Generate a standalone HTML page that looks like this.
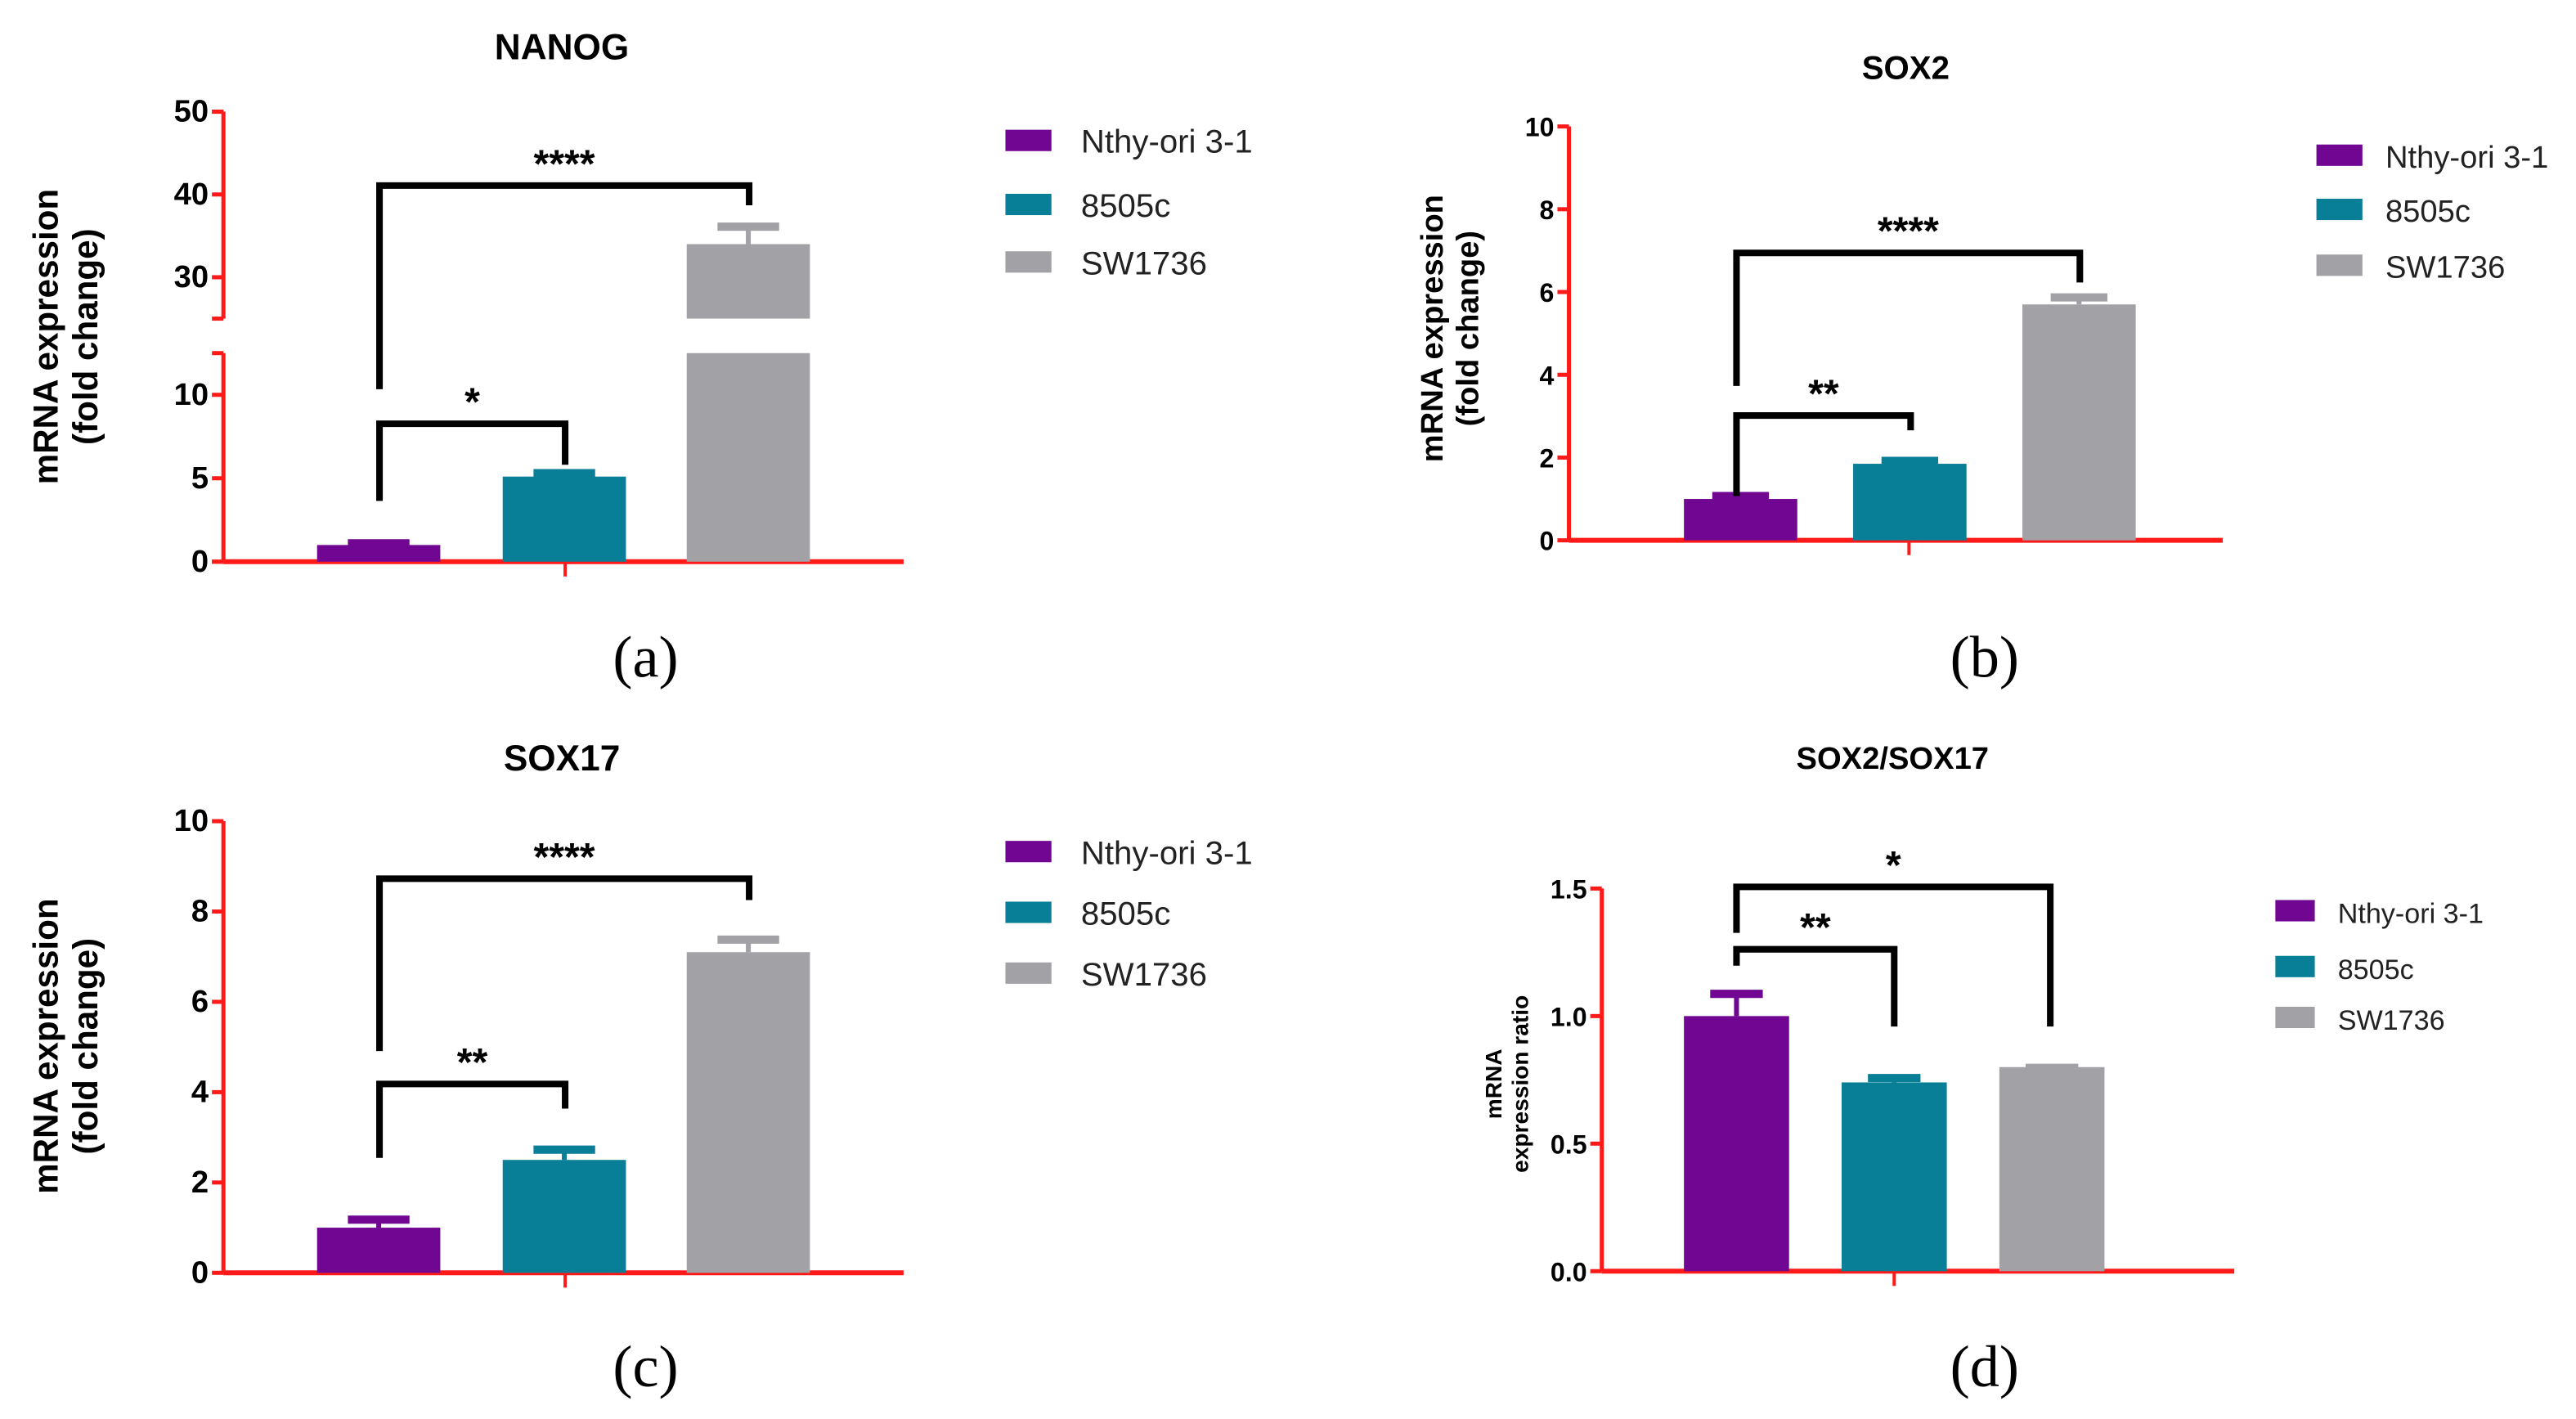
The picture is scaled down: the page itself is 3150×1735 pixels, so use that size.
<!DOCTYPE html>
<html><head><meta charset="utf-8"><style>
html,body{margin:0;padding:0;background:#fff;}
svg{display:block;}
text{font-family:"Liberation Sans",sans-serif;}
</style></head><body>
<svg id="fig" width="3150" height="1735" viewBox="0 0 1568 864" preserveAspectRatio="none" xmlns="http://www.w3.org/2000/svg"></svg>
<script>
const groups = ["Nthy-ori 3-1","8505c","SW1736"];
const colors = ["#710693","#087F96","#A2A1A6"];
const nanogValues = [1.0, 5.1, 34];
const nanogErrors = [1.3, 5.5, 36.5];
const nanogTicks = [0,5,10,30,40,50];
const sox2Values = [1.0, 1.85, 5.7];
const sox2Errors = [1.15, 2.0, 5.95];
const sox2Ticks = [0,2,4,6,8,10];
const sox17Values = [1.0, 2.5, 7.1];
const sox17Errors = [1.25, 2.8, 7.45];
const sox17Ticks = [0,2,4,6,8,10];
const ratioValues = [1.0, 0.74, 0.80];
const ratioErrors = [1.10, 0.77, 0.81];
const ratioTicks = [0.0,0.5,1.0,1.5];
const ratioTickLabels = ["0.0","0.5","1.0","1.5"];

const NS="http://www.w3.org/2000/svg";
const svg=document.getElementById('fig');
function mk(tag,attrs,parent){const e=document.createElementNS(NS,tag);for(const k in attrs)e.setAttribute(k,attrs[k]);(parent||svg).appendChild(e);return e;}
const RED="#FF1A1A";

function panel(p){
  const g=mk('g',{});
  
  
  const y=p.y;
  const t=mk('text',{x:p.titleX,y:p.titleY,'text-anchor':'middle','font-size':p.titleSize||22,'font-weight':'bold',fill:'#000'},g);
  t.textContent=p.title;
  
  
  const yl=mk('text',{transform:`translate(${p.ylX},${p.ylY}) rotate(-90)`,'text-anchor':'middle','font-size':p.ylSize,'font-weight':'bold',fill:'#000'},g);
  
  
  p.ylLines.forEach((s,i)=>{const ts=mk('tspan',{x:0,dy:i===0?0:p.ylSize*1.15},yl);ts.textContent=s;});
  if(p.axisSegments){p.axisSegments.forEach(s=>{
    const l=mk('line',{x1:p.ax,x2:p.ax,y1:s[0],y2:s[1],stroke:RED,'stroke-width':2.5},g);
    
    
    mk('line',{x1:p.ax-7,x2:p.ax,y1:s[0],y2:s[0],stroke:RED,'stroke-width':2.5},g);
    mk('line',{x1:p.ax-7,x2:p.ax,y1:s[1],y2:s[1],stroke:RED,'stroke-width':2.5},g);
  });}
  else{const l=mk('line',{x1:p.ax,x2:p.ax,y1:y(p.max),y2:y(0),stroke:RED,'stroke-width':2.5},g);
    
    }
  const xa=mk('line',{x1:p.ax,x2:p.axEnd,y1:y(0),y2:y(0),stroke:RED,'stroke-width':3},g);
  
  
  mk('line',{x1:p.xTick,x2:p.xTick,y1:y(0),y2:y(0)+9,stroke:RED,'stroke-width':2},g);
  p.ticks.forEach((v,i)=>{
    const yy=y(v);
    mk('line',{x1:p.ax-7,x2:p.ax,y1:yy,y2:yy,stroke:RED,'stroke-width':2.5},g);
    const tl=mk('text',{x:p.ax-9,y:yy+6,'text-anchor':'end','font-size':p.tickSize||19,'font-weight':'bold',fill:'#000'},g);
    tl.textContent=p.tickLabels?p.tickLabels[i]:String(v);
    
    
  });
  p.values.forEach((v,i)=>{
    const x0=p.barX[i], w=p.barW, cx=x0+w/2;
    if(p.breakRange && v>p.breakRange[0]){
      const r1=mk('rect',{x:x0,y:p.lowTopPx,width:w,height:y(0)-p.lowTopPx,fill:colors[i]},g);
      
      
      const r2=mk('rect',{x:x0,y:y(v),width:w,height:p.upBotPx-y(v),fill:colors[i]},g);
      
      
    } else {
      const r=mk('rect',{x:x0,y:y(v),width:w,height:y(0)-y(v),fill:colors[i]},g);
      
      
    }
    const e=p.errors[i];
    const el=mk('line',{x1:cx,x2:cx,y1:y(v),y2:y(e),stroke:colors[i],'stroke-width':3},g);
    
    
    mk('line',{x1:cx-w*0.25,x2:cx+w*0.25,y1:y(e)+2,y2:y(e)+2,stroke:colors[i],'stroke-width':5},g);
  });
  p.brackets.forEach((b,k)=>{
    const pl=mk('polyline',{points:`${b.x1},${b.l1} ${b.x1},${b.y} ${b.x2},${b.y} ${b.x2},${b.l2}`,fill:'none',stroke:'#000','stroke-width':4},g);
    
    
    const st=mk('text',{x:(b.x1+b.x2)/2,y:b.y-5,'text-anchor':'middle','font-size':24,'font-weight':'bold',fill:'#000'},g);
    st.textContent=b.label;
    
    
  });
  groups.forEach((n,i)=>{
    const ly=p.legY[i];
    const sq=mk('rect',{x:p.legX,y:ly-7,width:p.legSq,height:13,fill:colors[i]},g);
    
    
    const lt=mk('text',{x:p.legTX,y:ly+7,'font-size':p.legSize,fill:'#222'},g);
    lt.textContent=n;
    
    
  });
  const pl=mk('text',{x:p.labX,y:p.labY,'text-anchor':'middle','font-size':36,fill:'#000',style:'font-family:"Liberation Serif",serif'},g);
  pl.textContent=p.lab;
  
  
}

function yA(v){ if(v<=12.5) return 342-v*(342-215)/12.5; return 194-(v-25)*(194-68)/25; }
panel({id:'nanog',title:'NANOG',titleX:342,titleY:36,y:yA,max:50,ax:136,axEnd:550,xTick:344,
  axisSegments:[[68,194],[215,342]],breakRange:[12.5,25],lowTopPx:215,upBotPx:194,
  ticks:nanogTicks,values:nanogValues,errors:nanogErrors,barX:[193,306,418],barW:75,
  ylX:35,ylY:205,ylSize:21,ylLines:['mRNA expression','(fold change)'],
  brackets:[{x1:231,x2:456,y:113,l1:237,l2:125,label:'****'},{x1:231,x2:344,y:258,l1:305,l2:283,label:'*'}],
  legX:612,legSq:28,legTX:658,legY:[86,125,160],legSize:20,labX:393,labY:412,lab:'(a)'});
function yB(v){return 329-v*(329-77)/10;}
panel({id:'sox2',title:'SOX2',titleX:1160,titleY:48,titleSize:20,y:yB,max:10,ax:955,axEnd:1353,xTick:1162,
  ticks:sox2Ticks,values:sox2Values,errors:sox2Errors,barX:[1025,1128,1231],barW:69,tickSize:16,
  ylX:878,ylY:200,ylSize:19,ylLines:['mRNA expression','(fold change)'],
  brackets:[{x1:1057,x2:1266,y:154,l1:235,l2:172,label:'****'},{x1:1057,x2:1163,y:253,l1:302,l2:262,label:'**'}],
  legX:1410,legSq:28,legTX:1452,legY:[95,128,162],legSize:19,labX:1208,labY:412,lab:'(b)'});
function yC(v){return 775-v*(775-500)/10;}
panel({id:'sox17',title:'SOX17',titleX:342,titleY:469,y:yC,max:10,ax:136,axEnd:550,xTick:344,
  ticks:sox17Ticks,values:sox17Values,errors:sox17Errors,barX:[193,306,418],barW:75,
  ylX:35,ylY:637,ylSize:21,ylLines:['mRNA expression','(fold change)'],
  brackets:[{x1:231,x2:456,y:535,l1:640,l2:548,label:'****'},{x1:231,x2:344,y:660,l1:705,l2:675,label:'**'}],
  legX:612,legSq:28,legTX:658,legY:[519,556,593],legSize:20,labX:393,labY:844,lab:'(c)'});
function yD(v){return 774-v*(774-541)/1.5;}
panel({id:'ratio',title:'SOX2/SOX17',titleX:1152,titleY:468,titleSize:19,y:yD,max:1.5,ax:975,axEnd:1360,xTick:1153,
  ticks:ratioTicks,tickLabels:ratioTickLabels,values:ratioValues,errors:ratioErrors,barX:[1025,1121,1217],barW:64,tickSize:16,
  ylX:914,ylY:660,ylSize:14,ylLines:['mRNA','expression ratio'],
  brackets:[{x1:1057,x2:1248,y:540,l1:568,l2:625,label:'*'},{x1:1057,x2:1153,y:578,l1:588,l2:625,label:'**'}],
  legX:1385,legSq:24,legTX:1423,legY:[555,589,620],legSize:17,labX:1208,labY:844,lab:'(d)'});
</script>
</body></html>
